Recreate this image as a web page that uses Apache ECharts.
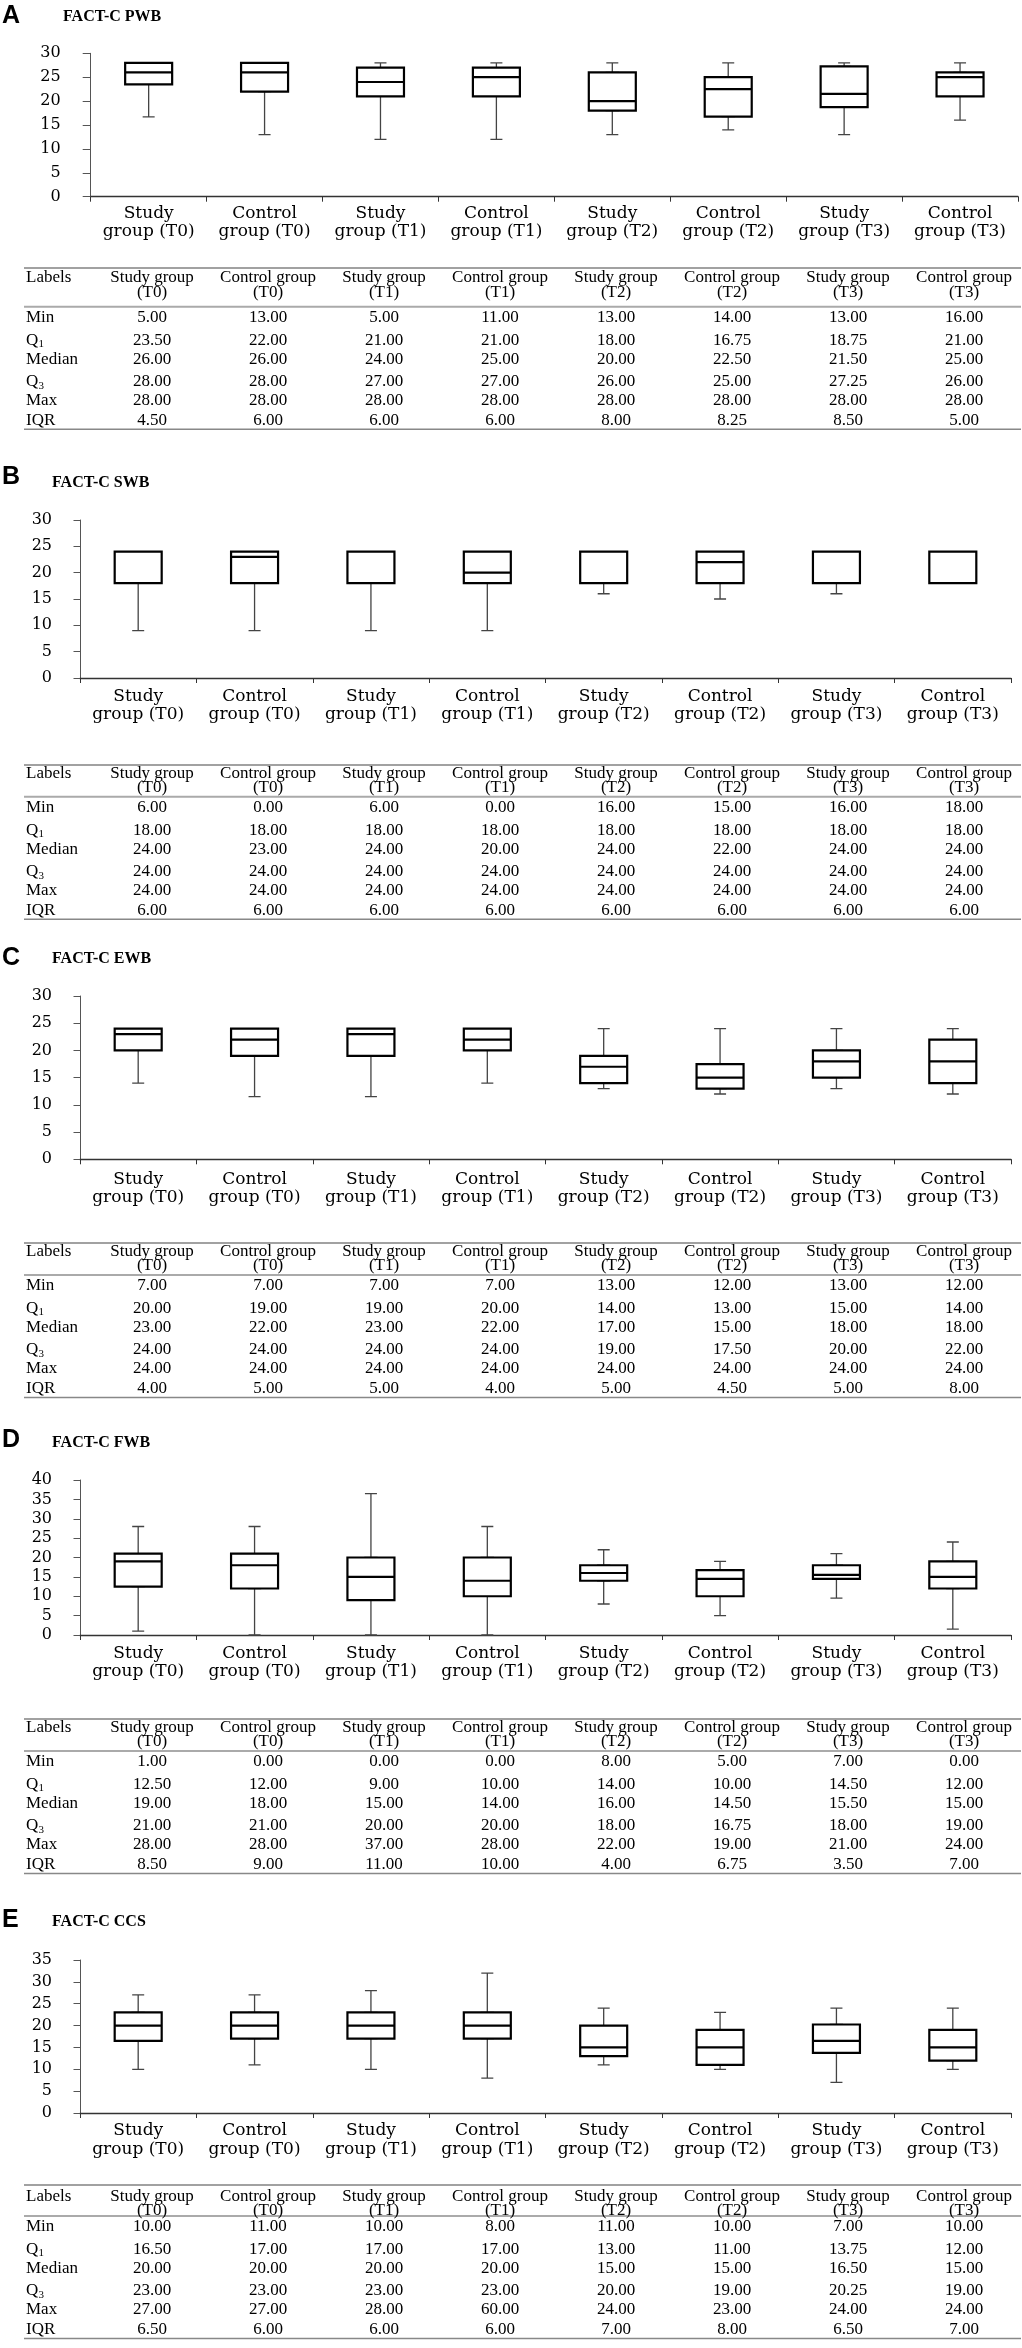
<!DOCTYPE html>
<html>
<head>
<meta charset="utf-8">
<script src="https://cdn.jsdelivr.net/npm/echarts@6/dist/echarts.min.js"></script>
<style>
  html, body { margin: 0; padding: 0; background: #fff; }
  #main { width: 1022px; height: 2348px; }
</style>
</head>
<body>
<div id="main"></div>
<script>
// groups on the x axis / table columns
var groupNames = ['Study group', 'Control group', 'Study group', 'Control group', 'Study group', 'Control group', 'Study group', 'Control group'];
var groupTimes = ['(T0)', '(T0)', '(T1)', '(T1)', '(T2)', '(T2)', '(T3)', '(T3)'];
var rowLabels = ['Min', 'Q1', 'Median', 'Q3', 'Max', 'IQR'];

// boxes as drawn: [lower whisker, Q1, median, Q3, upper whisker]
var pwbBoxes = [
  [16.7, 23.5, 26, 28, 28],
  [13, 22, 26, 28, 28],
  [12, 21, 24, 27, 28],
  [12, 21, 25, 27, 28],
  [13, 18, 20, 26, 28],
  [14, 16.75, 22.5, 25, 28],
  [13, 18.75, 21.5, 27.25, 28],
  [16, 21, 25, 26, 28]
];
var swbBoxes = [
  [9, 18, 24, 24, 24],
  [9, 18, 23, 24, 24],
  [9, 18, 24, 24, 24],
  [9, 18, 20, 24, 24],
  [16, 18, 24, 24, 24],
  [15, 18, 22, 24, 24],
  [16, 18, 24, 24, 24],
  [18, 18, 24, 24, 24]
];
var ewbBoxes = [
  [14, 20, 23, 24, 24],
  [11.5, 19, 22, 24, 24],
  [11.5, 19, 23, 24, 24],
  [14, 20, 22, 24, 24],
  [13, 14, 17, 19, 24],
  [12, 13, 15, 17.5, 24],
  [13, 15, 18, 20, 24],
  [12, 14, 18, 22, 24]
];
var fwbBoxes = [
  [1, 12.5, 19, 21, 28],
  [0, 12, 18, 21, 28],
  [0, 9, 15, 20, 36.5],
  [0, 10, 14, 20, 28],
  [8, 14, 16, 18, 22],
  [5, 10, 14.5, 16.75, 19],
  [9.5, 14.5, 15.5, 18, 21],
  [1.5, 12, 15, 19, 24]
];
var ccsBoxes = [
  [10, 16.5, 20, 23, 27],
  [11, 17, 20, 23, 27],
  [10, 17, 20, 23, 28],
  [8, 17, 20, 23, 32],
  [11, 13, 15, 20, 24],
  [10, 11, 15, 19, 23],
  [7, 13.75, 16.5, 20.25, 24],
  [10, 12, 15, 19, 24]
];

// table rows, in rowLabels order
var pwbTable = [
  [5, 13, 5, 11, 13, 14, 13, 16],
  [23.5, 22, 21, 21, 18, 16.75, 18.75, 21],
  [26, 26, 24, 25, 20, 22.5, 21.5, 25],
  [28, 28, 27, 27, 26, 25, 27.25, 26],
  [28, 28, 28, 28, 28, 28, 28, 28],
  [4.5, 6, 6, 6, 8, 8.25, 8.5, 5]
];
var swbTable = [
  [6, 0, 6, 0, 16, 15, 16, 18],
  [18, 18, 18, 18, 18, 18, 18, 18],
  [24, 23, 24, 20, 24, 22, 24, 24],
  [24, 24, 24, 24, 24, 24, 24, 24],
  [24, 24, 24, 24, 24, 24, 24, 24],
  [6, 6, 6, 6, 6, 6, 6, 6]
];
var ewbTable = [
  [7, 7, 7, 7, 13, 12, 13, 12],
  [20, 19, 19, 20, 14, 13, 15, 14],
  [23, 22, 23, 22, 17, 15, 18, 18],
  [24, 24, 24, 24, 19, 17.5, 20, 22],
  [24, 24, 24, 24, 24, 24, 24, 24],
  [4, 5, 5, 4, 5, 4.5, 5, 8]
];
var fwbTable = [
  [1, 0, 0, 0, 8, 5, 7, 0],
  [12.5, 12, 9, 10, 14, 10, 14.5, 12],
  [19, 18, 15, 14, 16, 14.5, 15.5, 15],
  [21, 21, 20, 20, 18, 16.75, 18, 19],
  [28, 28, 37, 28, 22, 19, 21, 24],
  [8.5, 9, 11, 10, 4, 6.75, 3.5, 7]
];
var ccsTable = [
  [10, 11, 10, 8, 11, 10, 7, 10],
  [16.5, 17, 17, 17, 13, 11, 13.75, 12],
  [20, 20, 20, 20, 15, 15, 16.5, 15],
  [23, 23, 23, 23, 20, 19, 20.25, 19],
  [27, 27, 28, 60, 24, 23, 24, 24],
  [6.5, 6, 6, 6, 7, 8, 6.5, 7]
];

// page layout of the five panels
var panels = [
  { letter: 'A', title: 'FACT-C PWB', boxes: pwbBoxes, table: pwbTable, yMax: 30,
    letterY: 16, titleX: 63, titleY: 17, left: 90.7, right: 1018, top: 53.3, bottom: 196.7,
    tickLen: 8, yMargin: 30, xMargin: 8, xLineHeight: 18,
    tableTop: 268, head1: 278, head2: 293, mid: 306.7 },
  { letter: 'B', title: 'FACT-C SWB', boxes: swbBoxes, table: swbTable, yMax: 30,
    letterY: 477, titleX: 52, titleY: 483, left: 80, right: 1011, top: 520, bottom: 678,
    tickLen: 6.5, yMargin: 28, xMargin: 10, xLineHeight: 18,
    tableTop: 765, head1: 774, head2: 788, mid: 796.7 },
  { letter: 'C', title: 'FACT-C EWB', boxes: ewbBoxes, table: ewbTable, yMax: 30,
    letterY: 958, titleX: 52, titleY: 959, left: 80, right: 1011, top: 996, bottom: 1159.3,
    tickLen: 6.5, yMargin: 28, xMargin: 12, xLineHeight: 17.3,
    tableTop: 1243, head1: 1252, head2: 1266, mid: 1275 },
  { letter: 'D', title: 'FACT-C FWB', boxes: fwbBoxes, table: fwbTable, yMax: 40,
    letterY: 1440, titleX: 52, titleY: 1443, left: 80, right: 1011, top: 1480, bottom: 1635,
    tickLen: 6.5, yMargin: 28, xMargin: 10, xLineHeight: 18,
    tableTop: 1719, head1: 1728, head2: 1742, mid: 1751 },
  { letter: 'E', title: 'FACT-C CCS', boxes: ccsBoxes, table: ccsTable, yMax: 35,
    letterY: 1920, titleX: 52, titleY: 1922, left: 80, right: 1011, top: 1960, bottom: 2113,
    tickLen: 6.5, yMargin: 28, xMargin: 8, xLineHeight: 19.3,
    tableTop: 2185, head1: 2197, head2: 2211, mid: 2216 }
];

var rowOffsets = [10.8, 33.5, 52.5, 75, 94, 113.7];
var bottomOffset = 122.5;
var colX0 = 152, colStep = 116, labelX = 26;
var lineX1 = 24, lineX2 = 1021;

var serifWide = 'DejaVu Serif';
var serif = '"Liberation Serif", "Times New Roman", serif';

var catLabels = groupNames.map(function (n, i) {
  return n.replace(' ', '\n') + ' ' + groupTimes[i];
});

var grids = [], xAxes = [], yAxes = [], series = [], graphics = [];

function txt(x, y, text, opt) {
  var s = {
    text: text, x: x, y: y,
    fontFamily: opt.fontFamily || serif,
    fontSize: opt.fontSize || 17,
    fontWeight: opt.fontWeight || 'normal',
    fill: '#000',
    align: opt.align || 'left',
    verticalAlign: 'middle'
  };
  return { type: 'text', silent: true, style: s };
}
function hline(y, color, width) {
  return { type: 'line', silent: true, shape: { x1: lineX1, y1: y, x2: lineX2, y2: y },
           style: { stroke: color, lineWidth: width } };
}

panels.forEach(function (p, i) {
  grids.push({ left: p.left, top: p.top, width: p.right - p.left, height: p.bottom - p.top });

  // visible axis (carries the boxes)
  xAxes.push({
    type: 'category', gridIndex: i, data: catLabels,
    axisLine: { lineStyle: { color: '#333', width: 1.3 } },
    axisTick: { show: true, length: 5, lineStyle: { color: '#333' } },
    axisLabel: { interval: 0, color: '#000', fontFamily: serifWide, fontSize: 17,
                 lineHeight: p.xLineHeight, margin: p.xMargin }
  });
  // hidden twin axis for the thin whiskers, so the two series are not dodged
  xAxes.push({ type: 'category', gridIndex: i, data: catLabels, show: false });

  yAxes.push({
    type: 'value', gridIndex: i, min: 0, max: p.yMax, interval: 5,
    axisLine: { show: true, lineStyle: { color: '#555', width: 1 } },
    axisTick: { show: true, length: p.tickLen, lineStyle: { color: '#555' } },
    splitLine: { show: false },
    axisLabel: { color: '#000', fontFamily: serifWide, fontSize: 16, margin: p.yMargin }
  });

  series.push({
    type: 'boxplot', xAxisIndex: 2 * i + 1, yAxisIndex: i, z: 2,
    boxWidth: [12, 12], silent: true,
    itemStyle: { color: '#fff', borderColor: '#444', borderWidth: 1.3 },
    data: p.boxes
  });
  series.push({
    type: 'boxplot', xAxisIndex: 2 * i, yAxisIndex: i, z: 3,
    boxWidth: [47, 47], silent: true,
    itemStyle: { color: '#fff', borderColor: '#000', borderWidth: 2.2 },
    data: p.boxes.map(function (b) { return [b[1], b[1], b[2], b[3], b[3]]; })
  });

  // panel letter and title
  graphics.push(txt(2, p.letterY, p.letter, { fontFamily: '"Liberation Sans", Arial, sans-serif', fontSize: 25, fontWeight: 'bold' }));
  graphics.push(txt(p.titleX, p.titleY, p.title, { fontSize: 16, fontWeight: 'bold' }));

  // table
  graphics.push(hline(p.tableTop, '#444', 1.2));
  graphics.push(hline(p.mid, '#aaa', 2));
  graphics.push(hline(p.mid + bottomOffset, '#888', 1.5));
  graphics.push(txt(labelX, p.head1, 'Labels', {}));
  groupNames.forEach(function (n, c) {
    var cx = colX0 + colStep * c;
    graphics.push(txt(cx, p.head1, n, { align: 'center' }));
    graphics.push(txt(cx, p.head2, groupTimes[c], { align: 'center' }));
  });
  rowLabels.forEach(function (r, k) {
    var ry = p.mid + rowOffsets[k];
    if (r === 'Q1' || r === 'Q3') {
      graphics.push(txt(labelX, ry, 'Q', {}));
      graphics.push(txt(labelX + 12.5, ry + 4, r.charAt(1), { fontSize: 11 }));
    } else {
      graphics.push(txt(labelX, ry, r, {}));
    }
    p.table[k].forEach(function (v, c) {
      graphics.push(txt(colX0 + colStep * c, ry, v.toFixed(2), { align: 'center' }));
    });
  });
});

var chart = echarts.init(document.getElementById('main'), null, { renderer: 'canvas' });
chart.setOption({
  animation: false,
  backgroundColor: '#fff',
  grid: grids,
  xAxis: xAxes,
  yAxis: yAxes,
  series: series,
  graphic: { elements: graphics }
});
</script>
</body>
</html>
